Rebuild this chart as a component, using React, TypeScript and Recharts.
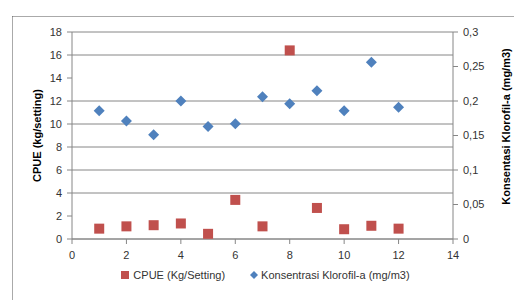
import React from 'react';
import { ScatterChart, Scatter, XAxis, YAxis, CartesianGrid, Legend } from 'recharts';

const stations = [1, 2, 3, 4, 5, 6, 7, 8, 9, 10, 11, 12];
const cpueValues = [0.9, 1.1, 1.2, 1.35, 0.45, 3.4, 1.1, 16.4, 2.7, 0.85, 1.15, 0.9];
const chlValues = [0.186, 0.171, 0.151, 0.2, 0.163, 0.167, 0.206, 0.196, 0.215, 0.186, 0.256, 0.191];
const xTicks = [0, 2, 4, 6, 8, 10, 12, 14];
const leftTicks = [0, 2, 4, 6, 8, 10, 12, 14, 16, 18];
const rightTicks = [0, 0.05, 0.1, 0.15, 0.2, 0.25, 0.3];

const cpueName = 'CPUE (Kg/Setting)';
const chlName = 'Konsentrasi Klorofil-a (mg/m3)';

const cpueData = stations.map((x, i) => ({ x, y: cpueValues[i] }));
const chlData = stations.map((x, i) => ({ x, y: chlValues[i] }));

const RED = '#C0504D';
const BLUE = '#4F81BD';
const GRID = '#868686';
const FONT = "'Liberation Sans', Arial, sans-serif";

const SquareShape = (props: any) => {
  const { cx, cy } = props;
  if (cx == null || cy == null) return null;
  return <rect x={cx - 5} y={cy - 5} width={10} height={10} fill={RED} />;
};

const DiamondShape = (props: any) => {
  const { cx, cy } = props;
  if (cx == null || cy == null) return null;
  const r = 5.5;
  return <polygon points={`${cx},${cy - r} ${cx + r},${cy} ${cx},${cy + r} ${cx - r},${cy}`} fill={BLUE} />;
};

const LegendContent = () => (
  <div style={{ display: 'flex', justifyContent: 'center', alignItems: 'center', fontFamily: FONT, fontSize: 11, color: '#333', paddingLeft: 12 }}>
    <div style={{ display: 'flex', alignItems: 'center', marginRight: 24 }}>
      <svg width={10} height={10} style={{ marginRight: 3 }}>
        <rect x={1} y={1} width={8} height={8} fill={RED} />
      </svg>
      <span>{cpueName}</span>
    </div>
    <div style={{ display: 'flex', alignItems: 'center' }}>
      <svg width={10} height={10} style={{ marginRight: 2 }}>
        <polygon points="5,1 9,5 5,9 1,5" fill={BLUE} />
      </svg>
      <span>{chlName}</span>
    </div>
  </div>
);

const fmtRight = (v: number) => String(v).replace('.', ',');

export default function App() {
  return (
    <div style={{ position: 'absolute', left: 0, top: 0, width: 518, height: 300, background: '#fff', overflow: 'hidden' }}>
      <svg width={518} height={300} style={{ position: 'absolute', left: 0, top: 0 }}>
        <line x1={12.5} y1={16.5} x2={12.5} y2={300} stroke="#555" strokeDasharray="1 1" />
        <line x1={12.5} y1={16.5} x2={514} y2={16.5} stroke="#555" strokeDasharray="1 1" />
      </svg>
      <div style={{ position: 'absolute', left: 0, top: 0 }}>
        <ScatterChart width={518} height={300} margin={{ top: 32, right: 0, left: 0, bottom: 0 }} style={{ fontFamily: FONT }}>
          <CartesianGrid yAxisId="left" vertical={false} stroke={GRID} strokeWidth={1} />
          <XAxis
            type="number"
            dataKey="x"
            domain={[0, 14]}
            ticks={xTicks}
            height={30}
            stroke={GRID}
            tickSize={5}
            tickMargin={7}
            tick={{ fill: '#333', fontSize: 11, fontFamily: FONT }}
            allowDataOverflow
          />
          <YAxis
            yAxisId="left"
            type="number"
            dataKey="y"
            domain={[0, 18]}
            ticks={leftTicks}
            width={72}
            stroke={GRID}
            tickSize={5}
            tickMargin={5}
            tick={{ fill: '#333', fontSize: 11, fontFamily: FONT }}
            label={{ value: 'CPUE (kg/setting)', angle: -90, position: 'center', dx: 1, style: { fontWeight: 'bold', fontSize: 11, fill: '#000', fontFamily: FONT } }}
          />
          <YAxis
            yAxisId="right"
            orientation="right"
            type="number"
            dataKey="y"
            domain={[0, 0.3]}
            ticks={rightTicks}
            width={65}
            stroke={GRID}
            tickSize={5}
            tickMargin={5}
            tickFormatter={fmtRight}
            tick={{ fill: '#333', fontSize: 11, fontFamily: FONT }}
            label={{ value: 'Konsentasi Klorofil-a  (mg/m3)', angle: -90, position: 'center', dx: 21, dy: -9, style: { fontWeight: 'bold', fontSize: 11, fill: '#000', fontFamily: FONT, whiteSpace: 'pre' } }}
          />
          <Legend verticalAlign="bottom" height={31} content={<LegendContent />} />
          <Scatter name={cpueName} data={cpueData} yAxisId="left" fill={RED} shape={SquareShape} isAnimationActive={false} />
          <Scatter name={chlName} data={chlData} yAxisId="right" fill={BLUE} shape={DiamondShape} isAnimationActive={false} />
        </ScatterChart>
      </div>
    </div>
  );
}
